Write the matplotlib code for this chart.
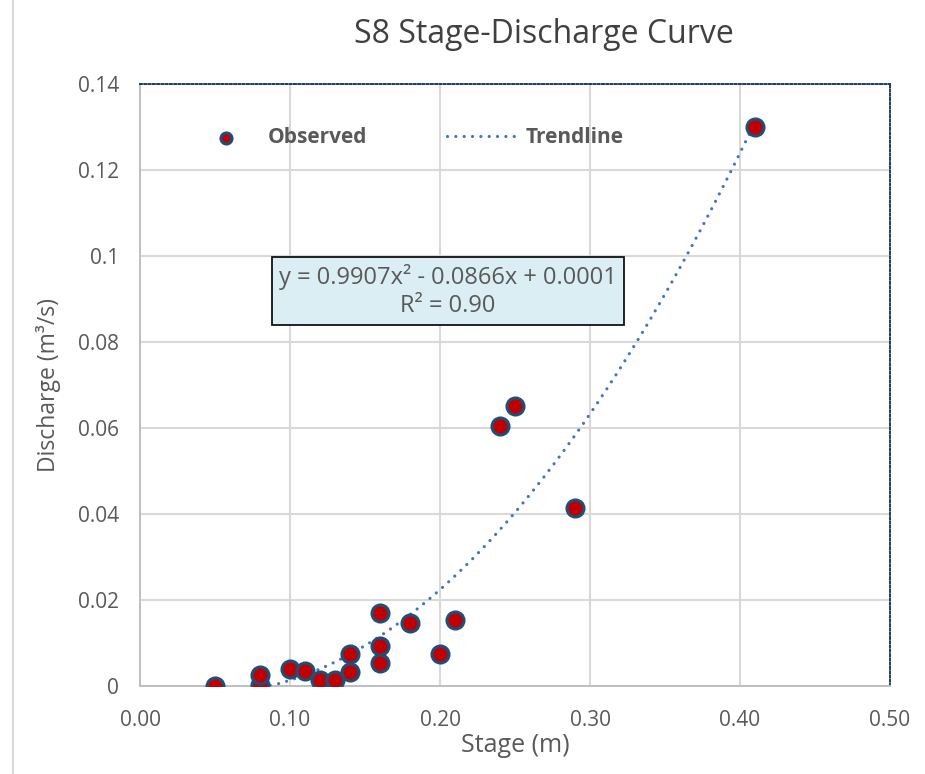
import numpy as np
import matplotlib.pyplot as plt
from matplotlib.lines import Line2D
from matplotlib.ticker import FuncFormatter

plt.rcParams['font.family'] = ['Open Sans', 'DejaVu Sans']

# observed stage (m) and discharge (m3/s)
stage = [0.05, 0.08, 0.08, 0.10, 0.11, 0.12, 0.13, 0.14, 0.14, 0.16,
         0.16, 0.16, 0.18, 0.20, 0.21, 0.24, 0.25, 0.29, 0.41]
discharge = [0.0001, 0.0002, 0.0025, 0.0040, 0.0035, 0.0013, 0.0014, 0.0033, 0.0074, 0.0053,
             0.0093, 0.0170, 0.0146, 0.0074, 0.0154, 0.0605, 0.0650, 0.0414, 0.1300]

# trendline coefficients (quadratic)
coef = [0.9907, -0.0866, 0.0001]
r2 = 0.90

xticks = [0.0, 0.1, 0.2, 0.3, 0.4, 0.5]
yticks = [0, 0.02, 0.04, 0.06, 0.08, 0.1, 0.12, 0.14]

grey = '#595959'

fig = plt.figure(figsize=(9.25, 7.74), dpi=100)
ax = fig.add_axes([0.1514, 0.1137, 0.8108, 0.7778])

xs = np.linspace(min(stage), max(stage), 400)
ys = np.polyval(coef, xs)
keep = ys >= 0
ax.plot(xs[keep], ys[keep], linestyle=(0, (0.01, 2.6)), dash_capstyle='round',
        color='#4472C4', lw=2.3, label='Trendline', zorder=3)
ax.scatter(stage, discharge, s=150, c='#C00000', edgecolors='#1F4E79', linewidths=2.2,
           label='Observed', zorder=4)

ax.set_xlim(0, 0.5)
ax.set_ylim(0, 0.14)
ax.set_xticks(xticks)
ax.set_yticks(yticks)
ax.xaxis.set_major_formatter(FuncFormatter(lambda v, p: '%.2f' % v))
ax.yaxis.set_major_formatter(FuncFormatter(lambda v, p: '0' if v == 0 else ('%.2f' % v).rstrip('0')))
ax.tick_params(length=0, labelsize=15, colors=grey)
ax.tick_params(axis='x', pad=17)
ax.tick_params(axis='y', pad=15)
ax.grid(True, color='#D9D9D9', lw=1.5)
ax.set_axisbelow(True)

for s in ['top', 'right']:
    ax.spines[s].set_color('#1F3864')
    ax.spines[s].set_linestyle((0, (1, 1.2)))
    ax.spines[s].set_linewidth(1.4)
for s in ['left', 'bottom']:
    ax.spines[s].set_color('#BFBFBF')
    ax.spines[s].set_linestyle((0, (1, 0.6)))
    ax.spines[s].set_linewidth(1.4)

ax.set_xlabel('Stage (m)', fontsize=18, color=grey, labelpad=2)
ax.set_ylabel('Discharge (m³/s)', fontsize=16.5, color=grey, labelpad=12)
fig.text(0.588, 0.955, 'S8 Stage-Discharge Curve', fontsize=23, color='#404040',
         ha='center', va='center')

# outer chart border on the left
fig.add_artist(Line2D([13 / 925, 13 / 925], [0, 1], transform=fig.transFigure,
                      color='#D9D9D9', lw=1.5))

h, l = ax.get_legend_handles_labels()
leg = ax.legend(handles=h[::-1], loc='center left', bbox_to_anchor=(0.04, 0.911), ncol=2,
                frameon=False, columnspacing=3.8, handlelength=3.6, handletextpad=0.2,
                prop={'weight': 'bold', 'size': 15}, markerscale=0.65)
for t in leg.get_texts():
    t.set_color(grey)

eq = 'y = %.4fx² - %.4fx + %.4f\nR² = %.2f' % (coef[0], -coef[1], coef[2], r2)
ax.text(0.2053, 0.0918, eq, fontsize=17, color=grey, ha='center', va='center',
        linespacing=1.2,
        bbox=dict(boxstyle='square,pad=0.3', facecolor='#DAEEF3', edgecolor='black', lw=1.2))

fig.savefig('out.png', dpi=100)
